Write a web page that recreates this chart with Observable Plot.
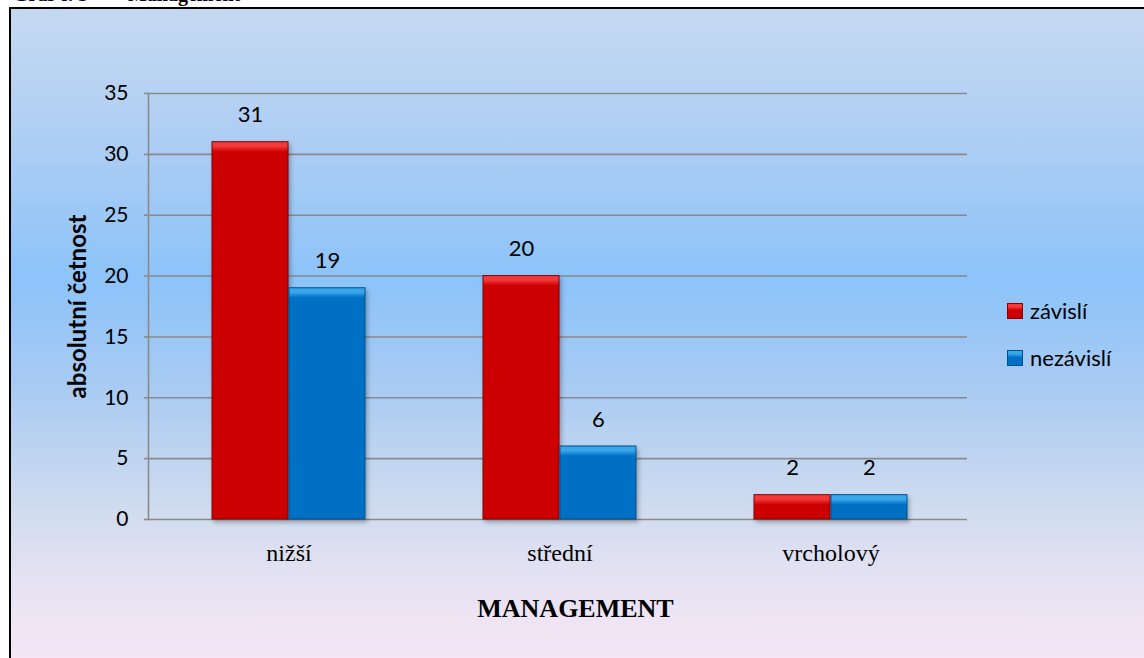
<!DOCTYPE html>
<html>
<head>
<meta charset="utf-8">
<script src="https://cdn.jsdelivr.net/npm/d3@7"></script>
<script src="https://cdn.jsdelivr.net/npm/@observablehq/plot@0.6"></script>
<style>
  html, body { margin: 0; padding: 0; width: 1144px; height: 658px; overflow: hidden; background: #ffffff; }
  #page { position: relative; width: 1144px; height: 658px; overflow: hidden; }
  #heading {
    position: absolute; left: 13px; top: -16px; line-height: 20px;
    font-family: "Liberation Serif", serif; font-weight: bold; font-size: 20px; color: #000;
    white-space: pre;
  }
  #panel {
    position: absolute; left: 9px; top: 7px; width: 1160px; height: 660px;
    border-left: 2px solid #000; border-top: 2px solid #000;
    background: linear-gradient(to bottom,
      #c6d9f1 0%, #aacdf4 22%, #8cc3f9 41%, #a6caf3 56%,
      #d0dcef 76%, #e8e3f3 88%, #f8e6f6 100%);
  }
  #chart { position: absolute; left: 0; top: 0; }
  #legend { position: absolute; left: 1007px; top: 297px; font-family: Lato, sans-serif; font-size: 22px; color: #000; }
  #legend .row { position: absolute; left: 0; display: flex; align-items: center; white-space: nowrap; }
  #legend .sw { width: 16px; height: 16px; margin-right: 7px; box-sizing: border-box; }
</style>
</head>
<body>
<div id="page">
  <div id="heading">Graf č. 3        Management</div>
  <div id="panel"></div>
  <div id="chart"></div>
  <div id="legend"></div>
</div>
<script>
// Management level of respondents, split by dependent / independent workers
const categories = ["nižší", "střední", "vrcholový"];
const series = ["závislí", "nezávislí"];
const zavisli = [31, 20, 2];
const nezavisli = [19, 6, 2];
const yTicks = [0, 5, 10, 15, 20, 25, 30, 35];
const seriesFill = ["#cc0000", "#0070c4"];
const seriesLight = ["#f23a3a", "#3aa6ea"];
const seriesStroke = ["#8a0000", "#00508c"];

const rowsZ = categories.map((c, i) => ({category: c, series: series[0], value: zavisli[i]}));
const rowsN = categories.map((c, i) => ({category: c, series: series[1], value: nezavisli[i]}));

const W = 1144, H = 658;
const mL = 148, mR = 172, mT = 93, mB = 139;
const padInner = 0.434, padOuter = 0.232;
// width of one category group, so that each series takes half of it
const step = (W - mL - mR) / (categories.length - padInner + 2 * padOuter);
const group = step * (1 - padInner);

const font = "Lato, sans-serif";
const serif = "'Liberation Serif', 'Times New Roman', serif";

const chart = Plot.plot({
  width: W,
  height: H,
  marginLeft: mL,
  marginRight: mR,
  marginTop: mT,
  marginBottom: mB,
  style: {background: "transparent", fontFamily: font, fontSize: "21px", color: "#000", overflow: "visible"},
  x: {domain: categories, paddingInner: padInner, paddingOuter: padOuter, align: 0.5, axis: null},
  y: {domain: [0, 35], axis: null},
  marks: [
    Plot.ruleY(yTicks, {stroke: "#8a8a8a", strokeWidth: 1.6, insetRight: 5}),
    Plot.axisY({ticks: yTicks, tickSize: 4, tickPadding: 16, stroke: "#8a8a8a", strokeWidth: 1.6,
      fontSize: 21, fontFamily: font, label: null, tickFormat: d => String(d)}),
    Plot.frame({anchor: "left", stroke: "#8a8a8a", strokeWidth: 1.6}),
    Plot.axisX({tickSize: 0, tickPadding: 24, fontSize: 24, fontFamily: serif, label: null}),
    Plot.barY(rowsZ, {x: "category", y: "value", fill: seriesFill[0], stroke: seriesStroke[0], strokeWidth: 1, insetRight: group / 2}),
    Plot.barY(rowsN, {x: "category", y: "value", fill: seriesFill[1], stroke: seriesStroke[1], strokeWidth: 1, insetLeft: group / 2}),
    Plot.text(rowsZ, {x: "category", y: "value", text: d => String(d.value), dx: -group / 4, dy: -27, fontSize: 22}),
    Plot.text(rowsN, {x: "category", y: "value", text: d => String(d.value), dx: group / 4, dy: -27, fontSize: 22}),
    Plot.text(["absolutní četnost"], {text: d => d, frameAnchor: "left", textAnchor: "middle", rotate: -90, dx: -70, fontWeight: "bold", fontSize: 24}),
    Plot.text(["MANAGEMENT"], {text: d => d, frameAnchor: "bottom", dx: 15, dy: 97, fontWeight: "bold", fontSize: 26, fontFamily: serif})
  ]
});

// bevelled look: lighter strip fading down from the top of each bar, soft shadow beneath
const ns = "http://www.w3.org/2000/svg";
const defs = document.createElementNS(ns, "defs");
chart.insertBefore(defs, chart.firstChild);
let gid = 0;
chart.querySelectorAll('g[aria-label="bar"]').forEach((g, si) => {
  g.style.filter = "drop-shadow(2px 3px 2px rgba(0,0,0,0.28))";
  g.querySelectorAll("rect").forEach(rect => {
    const y0 = +rect.getAttribute("y");
    const lg = document.createElementNS(ns, "linearGradient");
    const id = "bevel" + (gid++);
    lg.setAttribute("id", id);
    lg.setAttribute("gradientUnits", "userSpaceOnUse");
    lg.setAttribute("x1", 0); lg.setAttribute("x2", 0);
    lg.setAttribute("y1", y0); lg.setAttribute("y2", y0 + 10);
    [[0, seriesLight[si]], [0.45, seriesLight[si]], [1, seriesFill[si]]].forEach(([o, c]) => {
      const st = document.createElementNS(ns, "stop");
      st.setAttribute("offset", o);
      st.setAttribute("stop-color", c);
      lg.appendChild(st);
    });
    defs.appendChild(lg);
    rect.setAttribute("fill", `url(#${id})`);
  });
});

document.getElementById("chart").appendChild(chart);

// legend
const legend = document.getElementById("legend");
series.forEach((s, i) => {
  const row = document.createElement("div");
  row.className = "row";
  row.style.top = (i * 47) + "px";
  const sw = document.createElement("div");
  sw.className = "sw";
  sw.style.background = `linear-gradient(to bottom, ${seriesLight[i]} 0%, ${seriesLight[i]} 20%, ${seriesFill[i]} 45%)`;
  sw.style.border = "1px solid " + seriesStroke[i];
  const label = document.createElement("span");
  label.textContent = s;
  row.appendChild(sw);
  row.appendChild(label);
  legend.appendChild(row);
});
</script>
</body>
</html>
